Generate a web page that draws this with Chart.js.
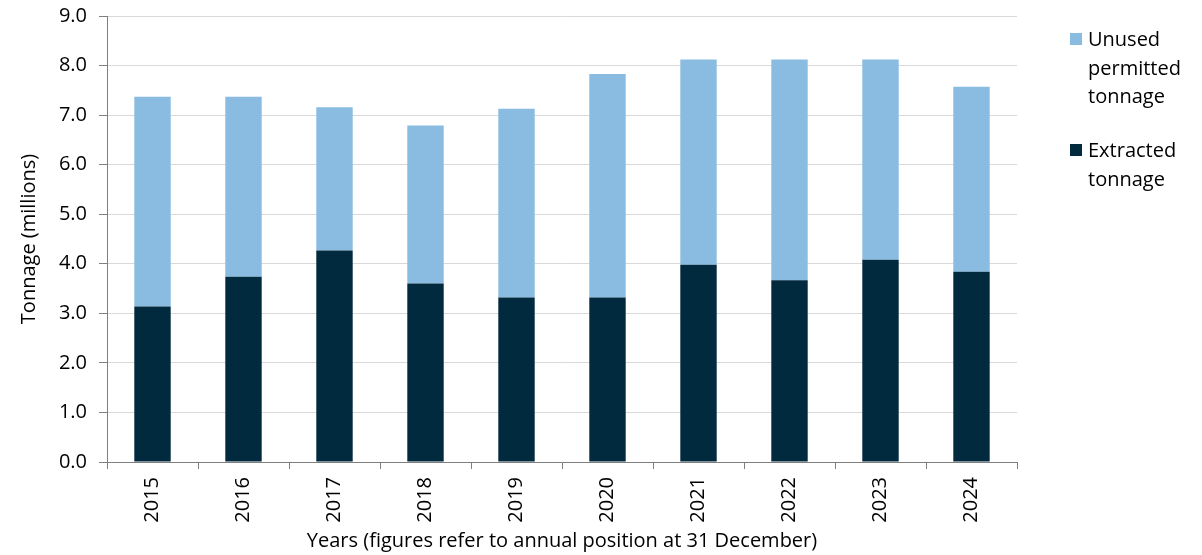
<!DOCTYPE html>
<html>
<head>
<meta charset="utf-8">
<script src="https://cdn.jsdelivr.net/npm/chart.js@4"></script>
<style>
  html, body { margin: 0; padding: 0; background: #fff; }
</style>
</head>
<body>
<canvas id="Chart1" width="1202" height="555"></canvas>
<script>
const years = ['2015', '2016', '2017', '2018', '2019', '2020', '2021', '2022', '2023', '2024'];
const extracted = [3.14, 3.74, 4.27, 3.60, 3.32, 3.32, 3.98, 3.67, 4.08, 3.84];
const unused = [4.23, 3.63, 2.89, 3.19, 3.81, 4.51, 4.14, 4.45, 4.04, 3.73];
const seriesNames = ['Extracted tonnage', 'Unused permitted tonnage'];
// legend order and how the labels wrap, as in the original
const legendLines = [['Unused', 'permitted', 'tonnage'], ['Extracted', 'tonnage']];
const legendIdx = [1, 0];

const FONT = '"Open Sans", "Noto Sans", sans-serif';

// legend drawn at the right, with wrapped labels
const sideLegend = {
  id: 'sideLegend',
  afterDraw(chart) {
    const c = chart.ctx;
    c.save();
    c.font = '20px ' + FONT;
    c.textBaseline = 'alphabetic';
    let y = 46;
    legendIdx.forEach((di, k) => {
      const ds = chart.data.datasets[di];
      c.fillStyle = ds.backgroundColor;
      c.fillRect(1070, y - 13, 12, 12);
      c.fillStyle = '#000';
      legendLines[k].forEach((line, i) => c.fillText(line, 1088, y + i * 28.5));
      y += legendLines[k].length * 28.5 + 25.5;
    });
    c.restore();
  }
};

var ctx = document.getElementById('Chart1').getContext('2d');
const data = {
  labels: years,
  datasets: [{
      label: seriesNames[0],
      data: extracted,
      backgroundColor: '#022A3E',
      barPercentage: 0.4,
      categoryPercentage: 1
    },
    {
      label: seriesNames[1],
      data: unused,
      backgroundColor: '#89BCE0',
      barPercentage: 0.4,
      categoryPercentage: 1
    }
  ]
};

const config = {
  type: 'bar',
  data: data,
  plugins: [sideLegend],
  options: {
    responsive: false,
    maintainAspectRatio: false,
    animation: false,
    layout: {
      padding: { left: 17, right: 185, top: 16, bottom: 2 }
    },
    plugins: {
      legend: { display: false },
      tooltip: { enabled: false }
    },
    scales: {
      x: {
        stacked: true,
        afterFit: (s) => { s.height = 555 - 462 - 2; },
        border: { color: '#7f7f7f', width: 1 },
        grid: {
          drawOnChartArea: false,
          drawTicks: true,
          tickLength: 7,
          color: '#7f7f7f'
        },
        ticks: {
          color: '#000',
          minRotation: 90,
          maxRotation: 90,
          padding: 8,
          font: { family: FONT, size: 20 }
        },
        title: {
          display: true,
          text: 'Years (figures refer to annual position at 31 December)',
          color: '#000',
          padding: { top: 0, bottom: 0 },
          font: { family: FONT, size: 20 }
        }
      },
      y: {
        stacked: true,
        min: 0,
        max: 9,
        afterFit: (s) => { s.width = 107 - 17; s.paddingTop = 0; s.paddingBottom = 0; },
        border: { color: '#7f7f7f', width: 1 },
        grid: {
          color: '#d9d9d9',
          tickColor: '#7f7f7f',
          tickLength: 8
        },
        ticks: {
          stepSize: 1,
          color: '#000',
          padding: 12,
          font: { family: FONT, size: 20 },
          callback: (v) => v.toFixed(1)
        },
        title: {
          display: true,
          text: 'Tonnage (millions)',
          color: '#000',
          padding: { top: 0, bottom: 0 },
          font: { family: FONT, size: 20 }
        }
      }
    }
  }
};
var myChart1 = new Chart(ctx, config);
</script>
</body>
</html>
